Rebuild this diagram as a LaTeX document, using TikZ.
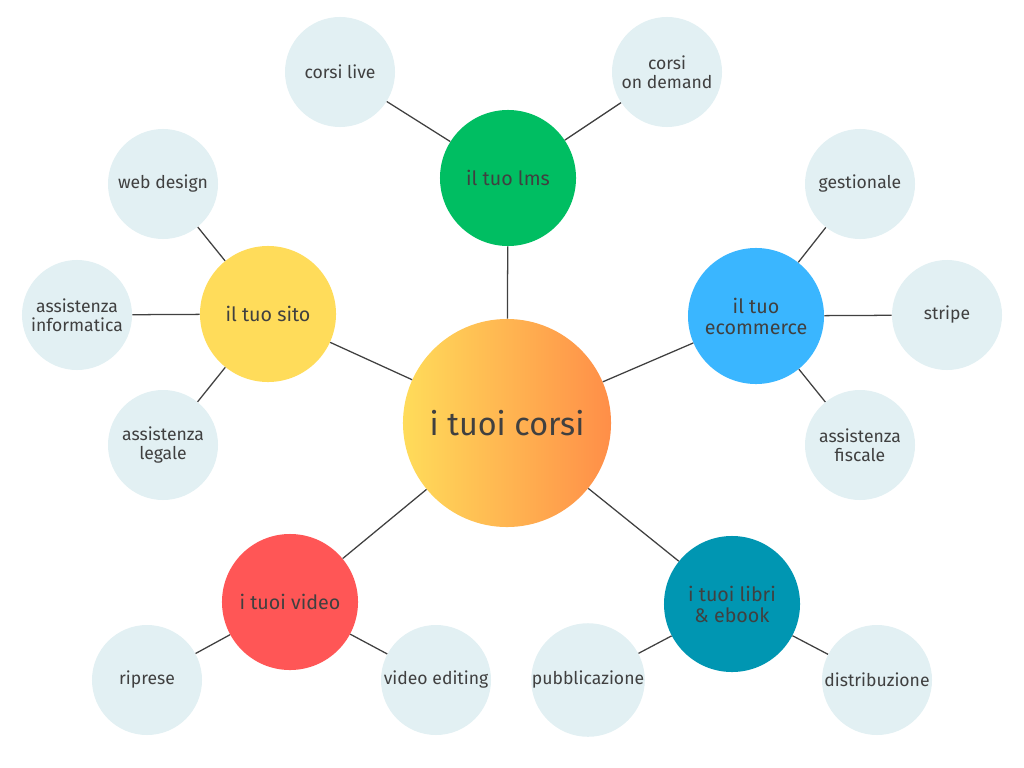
\documentclass[tikz,border=0pt]{standalone}
\usepackage{fontspec}
\setmainfont{Fira Sans}
\usetikzlibrary{shadings}
\definecolor{txt}{RGB}{64,64,64}
\definecolor{leaf}{RGB}{226,240,243}
\definecolor{cgreen}{RGB}{0,190,98}
\definecolor{cyellow}{RGB}{255,220,90}
\definecolor{cblue}{RGB}{58,182,255}
\definecolor{cred}{RGB}{255,86,86}
\definecolor{cteal}{RGB}{0,150,178}
\definecolor{corange}{RGB}{255,142,72}
\tikzset{
  hub/.style={circle, minimum size=5.2cm, inner sep=0pt, align=center, text=txt, font=\fontsize{23}{26}\selectfont},
  branch/.style={circle, minimum size=3.4cm, inner sep=0pt, align=center, text=txt, font=\fontsize{14}{15}\selectfont},
  leafnode/.style={circle, fill=leaf, minimum size=2.75cm, inner sep=0pt, align=center, text=txt, font=\fontsize{12.5}{13.5}\selectfont},
  link/.style={draw=txt, line width=0.9pt}
}
\begin{document}
\begin{tikzpicture}[x=0.025cm,y=-0.025cm]
    \useasboundingbox (0,0) rectangle (1024,768);
    % hub and branches
    \node [hub, left color=cyellow, right color=corange] at (507,423) (corsi) {i tuoi corsi};
    \node [branch, fill=cgreen] at (508,178) (lms) {il tuo lms};
    \node [branch, fill=cyellow] at (268,314) (sito) {il tuo sito};
    \node [branch, fill=cblue] at (756,316) (ecom) {il tuo\\ecommerce};
    \node [branch, fill=cred] at (290,602) (video) {i tuoi video};
    \node [branch, fill=cteal] at (732,604) (libri) {i tuoi libri\\\& ebook};
    % leaves
    \node [leafnode] at (340,72) (live) {corsi live};
    \node [leafnode] at (667,72) (demand) {corsi\\on demand};
    \node [leafnode] at (163,184) (web) {web design};
    \node [leafnode] at (77,315) (info) {assistenza\\informatica};
    \node [leafnode] at (163,445) (legale) {assistenza\\legale};
    \node [leafnode] at (860,184) (gest) {gestionale};
    \node [leafnode] at (947,315) (stripe) {stripe};
    \node [leafnode] at (860,445) (fiscale) {assistenza\\fiscale};
    \node [leafnode] at (147,680) (riprese) {riprese};
    \node [leafnode] at (436,680) (editing) {video editing};
    \node [leafnode] at (588,680) (pubbl) {pubblicazione};
    \node [leafnode] at (877,680) (distr) {distribuzione};
    % links
    \path [link] (corsi) -- (lms);
    \path [link] (corsi) -- (sito);
    \path [link] (corsi) -- (ecom);
    \path [link] (corsi) -- (video);
    \path [link] (corsi) -- (libri);
    \path [link] (lms) -- (live);
    \path [link] (lms) -- (demand);
    \path [link] (sito) -- (web);
    \path [link] (sito) -- (info);
    \path [link] (sito) -- (legale);
    \path [link] (ecom) -- (gest);
    \path [link] (ecom) -- (stripe);
    \path [link] (ecom) -- (fiscale);
    \path [link] (video) -- (riprese);
    \path [link] (video) -- (editing);
    \path [link] (libri) -- (pubbl);
    \path [link] (libri) -- (distr);
\end{tikzpicture}
\end{document}
